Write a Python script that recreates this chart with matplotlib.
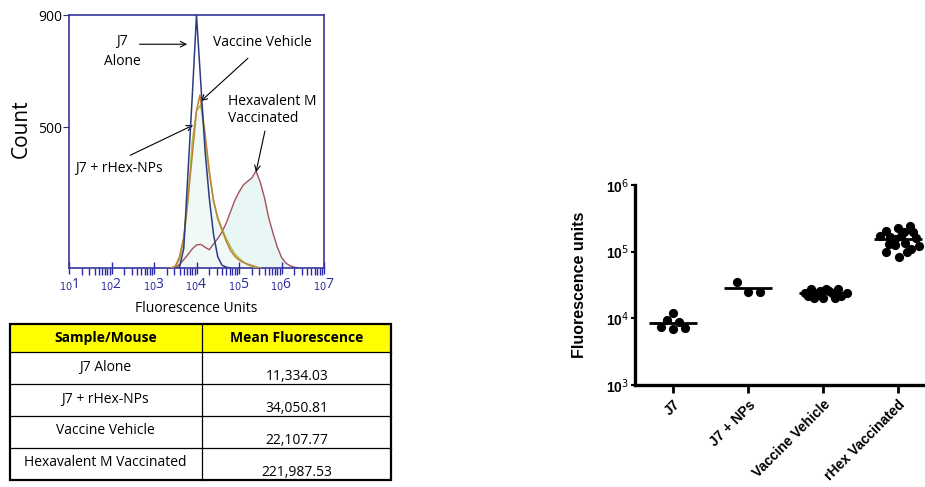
import numpy as np
import matplotlib
matplotlib.use("Agg")
import matplotlib.pyplot as plt
from matplotlib import ticker

plt.rcParams["font.family"] = ["Open Sans", "DejaVu Sans"]

# ---- histogram (log10 fluorescence vs count) ----
j7_log = [3.5, 3.6, 3.7, 3.8, 3.9, 4.0, 4.1, 4.2, 4.3, 4.4, 4.5, 4.6, 4.7, 4.8]
j7_count = [0, 3, 70, 340, 610, 900, 660, 420, 250, 120, 40, 10, 3, 0]

veh_log = [3.4, 3.5, 3.6, 3.7, 3.8, 3.9, 4.0, 4.08, 4.2, 4.3, 4.4, 4.5, 4.6, 4.7,
           4.8, 4.9, 5.0, 5.1, 5.2, 5.3, 5.4, 5.5]
veh_count = [0, 6, 40, 110, 250, 400, 560, 615, 480, 345, 240, 175, 135, 95,
             62, 42, 28, 20, 14, 9, 4, 0]

nps_log = [3.4, 3.5, 3.6, 3.7, 3.8, 3.9, 4.0, 4.1, 4.2, 4.3, 4.4, 4.5, 4.6, 4.7,
           4.8, 4.9, 5.0, 5.1, 5.2, 5.3, 5.4, 5.5]
nps_count = [0, 5, 30, 100, 240, 450, 560, 580, 470, 340, 240, 180, 140, 105,
             75, 50, 35, 22, 12, 6, 2, 0]

hex_log = [3.4, 3.5, 3.6, 3.7, 3.8, 3.9, 4.0, 4.1, 4.2, 4.3, 4.4, 4.5, 4.6, 4.7,
           4.8, 4.9, 5.0, 5.1, 5.2, 5.3, 5.4, 5.5, 5.6, 5.7, 5.8, 5.9, 6.0, 6.1,
           6.2, 6.3, 6.4]
hex_count = [0, 4, 12, 30, 48, 68, 82, 84, 74, 65, 85, 105, 128, 160,
             200, 240, 270, 295, 308, 320, 345, 305, 250, 178, 124, 75, 38, 18,
             8, 3, 0]

# ---- table ----
samples = ["J7 Alone", "J7 + rHex-NPs", "Vaccine Vehicle", "Hexavalent M Vaccinated"]
mean_fluor = [11334.03, 34050.81, 22107.77, 221987.53]

# ---- scatter ----
groups = ["J7", "J7 + NPs", "Vaccine Vehicle", "rHex Vaccinated"]
j7_vals = [12000, 9400, 7400, 6900, 8800, 7200]
j7_off = [-0.01, -0.09, -0.16, -0.01, 0.08, 0.15]
nps_vals = [35000, 24500, 24800]
nps_off = [-0.15, 0.0, 0.16]
veh_vals = [27500, 27500, 27500, 24300, 24300, 24300, 24300,
            20000, 20000, 20000, 21500, 21500, 26000, 26000]
veh_off = [-0.16, 0.04, 0.2, -0.25, -0.07, 0.11, 0.31,
           -0.13, 0.0, 0.16, -0.21, 0.24, 0.07, -0.05]
hex_vals = [171000, 204000, 166000, 126000, 226000, 171000, 135000, 242000, 197000,
            160000, 121000, 98600, 83000, 98600, 110000, 130000, 197000, 155000]
hex_off = [-0.25, -0.17, -0.11, -0.05, 0.0, 0.04, 0.09, 0.15, 0.2,
           0.24, 0.27, -0.16, 0.01, 0.12, 0.17, -0.12, 0.08, -0.04]

fig = plt.figure(figsize=(9.25, 4.87), dpi=100)
W, H = 925.0, 487.0

# ================= histogram =================
ax1 = fig.add_axes([69 / W, 1 - 268 / H, 255 / W, 253 / H])
ax1.set_xscale("log")
ax1.set_xlim(10, 1e7)
ax1.set_ylim(0, 900)

ax1.fill_between(10 ** np.array(hex_log), hex_count, color="#e8f6f6", lw=0, zorder=1)
ax1.fill_between(10 ** np.array(nps_log), nps_count, color="#f0f9f5", lw=0, zorder=1)

ax1.plot(10 ** np.array(hex_log), hex_count, color="#a4505e", lw=1.0, zorder=2)
ax1.plot(10 ** np.array(nps_log), nps_count, color="#a9bd45", lw=1.1, zorder=3)
ax1.plot(10 ** np.array(veh_log), veh_count, color="#c08238", lw=1.1, zorder=4)
ax1.plot(10 ** np.array(j7_log), j7_count, color="#2b3c80", lw=1.1, zorder=5)

navy = "#35359a"
for s in ax1.spines.values():
    s.set_color(navy)
    s.set_linewidth(1.2)

ax1.set_yticks([500, 900])
ax1.tick_params(axis="y", length=4, color="#333366", labelsize=10, pad=1)
ax1.xaxis.set_major_locator(ticker.LogLocator(base=10, numticks=10))
ax1.xaxis.set_minor_locator(ticker.LogLocator(base=10, subs=np.arange(2, 10), numticks=20))
ax1.xaxis.set_minor_formatter(ticker.NullFormatter())
ax1.xaxis.set_major_formatter(ticker.FuncFormatter(
    lambda v, p: r"${}_{10}$" + str(int(round(np.log10(v))))))
ax1.tick_params(axis="x", which="major", direction="inout", length=9, width=1.0,
                color="#2a2ab0", labelcolor="#2a2aa0", labelsize=10, pad=2)
ax1.tick_params(axis="x", which="minor", direction="out", length=5, width=1.0,
                color="#2a2ab0")

ax1.set_ylabel("Count", fontsize=15)
ax1.yaxis.set_label_coords(-0.145, 0.55)
ax1.set_xlabel("Fluorescence Units", fontsize=10)
ax1.xaxis.set_label_coords(0.5, -0.13)

fs = 10
arw = dict(arrowstyle="->", lw=0.8, color="black", shrinkA=0, shrinkB=0)
ax1.text(10 ** 2.25, 770, "J7\nAlone", ha="center", va="center", fontsize=fs,
         linespacing=1.5)
ax1.annotate("", xy=(10 ** 3.78, 796), xytext=(10 ** 2.66, 796), arrowprops=arw)
ax1.text(10 ** 5.54, 803, "Vaccine Vehicle", ha="center", va="center", fontsize=fs)
ax1.annotate("", xy=(10 ** 4.1, 593), xytext=(10 ** 5.21, 746), arrowprops=arw)
ax1.text(10 ** 4.74, 563, "Hexavalent M\nVaccinated", ha="left", va="center",
         fontsize=fs, linespacing=1.2)
ax1.annotate("", xy=(10 ** 5.4, 341), xytext=(10 ** 5.61, 487), arrowprops=arw)
ax1.text(10 ** 1.14, 355, "J7 + rHex-NPs", ha="left", va="center", fontsize=fs)
ax1.annotate("", xy=(10 ** 3.92, 508), xytext=(10 ** 2.44, 401), arrowprops=arw)

# ================= table =================
axt = fig.add_axes([0, 0, 1, 1])
axt.set_xlim(0, W)
axt.set_ylim(H, 0)
axt.axis("off")
tx0, tx1, tmid = 10, 391, 202
rows = [324, 352, 384, 416, 448, 480]
axt.add_patch(plt.Rectangle((tx0, rows[0]), tx1 - tx0, rows[1] - rows[0],
                            facecolor="#ffff00", edgecolor="none"))
for yy in rows[1:-1]:
    axt.plot([tx0, tx1], [yy, yy], color="black", lw=0.9)
axt.plot([tmid, tmid], [rows[0], rows[-1]], color="black", lw=0.9)
axt.add_patch(plt.Rectangle((tx0, rows[0]), tx1 - tx0, rows[-1] - rows[0],
                            facecolor="none", edgecolor="black", lw=1.6))
hdr_y = (rows[0] + rows[1]) / 2
axt.text(106, hdr_y, "Sample/Mouse", ha="center", va="center", fontsize=fs,
         fontweight="bold")
axt.text(297, hdr_y, "Mean Fluorescence", ha="center", va="center", fontsize=fs,
         fontweight="bold")
for i, (s, m) in enumerate(zip(samples, mean_fluor)):
    top = rows[i + 1]
    axt.text(105, top + 15, s, ha="center", va="center", fontsize=fs)
    axt.text(297, top + 25, f"{m:,.2f}", ha="center", va="center", fontsize=fs)

# ================= scatter =================
arial = "Liberation Sans"
ax2 = fig.add_axes([635 / W, 1 - 385 / H, 288 / W, 200 / H])
ax2.set_yscale("log")
ax2.set_ylim(1e3, 1e6)
ax2.set_xlim(-0.51, 3.33)
all_vals = [j7_vals, nps_vals, veh_vals, hex_vals]
all_off = [j7_off, nps_off, veh_off, hex_off]
for i, (vals, off) in enumerate(zip(all_vals, all_off)):
    ax2.scatter(i + np.array(off), vals, s=44, color="black", lw=0, zorder=3,
                clip_on=False)
    ax2.hlines(np.mean(vals), i - 0.32, i + 0.32, color="black", lw=2, zorder=4)

ax2.spines["top"].set_visible(False)
ax2.spines["right"].set_visible(False)
ax2.spines["left"].set_linewidth(2.4)
ax2.spines["bottom"].set_linewidth(2.4)
ax2.yaxis.set_minor_locator(ticker.NullLocator())
ax2.set_yticks([1e3, 1e4, 1e5, 1e6])
ax2.set_yticklabels([r"10$^{3}$", r"10$^{4}$", r"10$^{5}$", r"10$^{6}$"],
                    fontfamily=arial, fontsize=10, fontweight="bold")
ax2.tick_params(axis="y", length=3, width=1.5, pad=1)
ax2.set_xticks(range(len(groups)))
ax2.set_xticklabels(groups, rotation=45, ha="right", rotation_mode="anchor",
                    fontfamily=arial, fontsize=10, fontweight="bold")
ax2.tick_params(axis="x", length=6, width=2, pad=3)
ax2.set_ylabel("Fluorescence units", fontfamily=arial, fontsize=11.5,
               fontweight="bold")
ax2.yaxis.set_label_coords(-0.165, 0.5)

fig.savefig("out.png", dpi=100)
